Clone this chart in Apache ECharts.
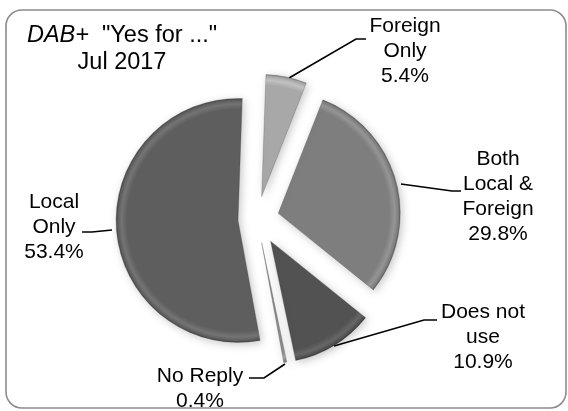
<!DOCTYPE html>
<html>
<head>
<meta charset="utf-8">
<script src="https://cdn.jsdelivr.net/npm/echarts@6/dist/echarts.min.js"></script>
<style>
  html, body { margin: 0; padding: 0; background: #ffffff; }
  #chart { width: 568px; height: 411px; }
</style>
</head>
<body>
<div id="chart"></div>
<script>
// Survey answers, clockwise from twelve o'clock
const categories = ['Foreign\nOnly', 'Both\nLocal &\nForeign', 'Does not\nuse', 'No Reply', 'Local\nOnly'];
const shares = [5.4, 29.8, 10.9, 0.4, 53.4];

// Look of each slice: base grey, rim highlight, outer edge
const sliceColors = ['#a8a8a8', '#7e7e7e', '#525252', '#8c8c8c', '#5e5e5e'];
const rimColors   = ['#c2c2c2', '#959595', '#666666', '#a5a5a5', '#747474'];
const edgeColors  = ['#858585', '#5e5e5e', '#3a3a3a', '#6a6a6a', '#444444'];
const explodeBy = [23, 22, 26, 24, 19];

// Where each label sits, and the leader from slice to label
const labelSpots = [
  { x: 405, y: 51,  line: [[289, 78], [356, 39], [366, 39]] },
  { x: 498, y: 197, line: [[401, 184], [452, 191], [461, 191]] },
  { x: 483, y: 337, line: [[334, 346], [424, 320], [437, 320]] },
  { x: 200, y: 389, line: [[285, 364], [264, 378], [249, 378]] },
  { x: 54,  y: 227, line: [[112, 230], [92, 232], [82, 232]] }
];

const FONT = '"Liberation Sans", Arial, sans-serif';
const PIE_CENTER = [257, 219];
const PIE_RADIUS = 122;
const START_ANGLE = 88;

const chart = echarts.init(document.getElementById('chart'), null, { renderer: 'canvas' });

const total = shares.reduce((a, b) => a + b, 0);
let before = 0;

// One pie per answer so every slice can be pulled out by its own distance
const series = shares.map((v, i) => {
  const a0 = START_ANGLE - 360 * before / total;
  before += v;
  const a1 = START_ANGLE - 360 * before / total;
  const mid = (a0 + a1) / 2 * Math.PI / 180;
  const cx = PIE_CENTER[0] + explodeBy[i] * Math.cos(mid);
  const cy = PIE_CENTER[1] - explodeBy[i] * Math.sin(mid);
  // bevelled rim: flat face, faint lighter band, darker lip
  const fill = {
    type: 'radial', global: true, x: cx, y: cy, r: PIE_RADIUS,
    colorStops: [
      { offset: 0, color: sliceColors[i] },
      { offset: 0.91, color: sliceColors[i] },
      { offset: 0.955, color: rimColors[i] },
      { offset: 0.985, color: sliceColors[i] },
      { offset: 1, color: edgeColors[i] }
    ]
  };
  return {
    type: 'pie',
    startAngle: START_ANGLE,
    clockwise: true,
    radius: PIE_RADIUS,
    center: [cx, cy],
    avoidLabelOverlap: false,
    silent: true,
    animation: false,
    data: categories.map((name, j) => ({
      name: name,
      value: shares[j],
      itemStyle: j === i ? {
        color: fill,
        borderColor: 'rgba(60,60,60,0.3)',
        borderWidth: 0.8,
        shadowBlur: 9,
        shadowOffsetX: 2,
        shadowOffsetY: 2,
        shadowColor: 'rgba(0,0,0,0.22)'
      } : { color: 'rgba(0,0,0,0)', borderWidth: 0 },
      label: { show: j === i },
      labelLine: { show: j === i }
    })),
    label: {
      position: 'outside',
      formatter: p => p.name + '\n' + p.value.toFixed(1) + '%',
      fontFamily: FONT,
      fontSize: 21,
      lineHeight: 25,
      color: '#000000',
      align: 'center'
    },
    labelLine: {
      show: true,
      lineStyle: { color: '#000000', width: 1.6 }
    },
    labelLayout: p => {
      if (p.dataIndex !== i) return {};
      const s = labelSpots[i];
      return { x: s.x, y: s.y, align: 'center', verticalAlign: 'middle', labelLinePoints: s.line };
    }
  };
});

chart.setOption({
  backgroundColor: '#ffffff',
  graphic: [
    {
      type: 'rect',
      shape: { x: 6, y: 10, width: 560, height: 398, r: 16 },
      style: { fill: 'none', stroke: '#8c8c8c', lineWidth: 1.6 },
      silent: true
    },
    {
      type: 'text',
      x: 122,
      y: 22,
      style: {
        text: '{i|DAB+}  "Yes for ..."\nJul 2017',
        fontFamily: FONT,
        fontSize: 23.5,
        lineHeight: 27,
        fill: '#000000',
        align: 'center',
        verticalAlign: 'top',
        rich: {
          i: { fontStyle: 'italic', fontFamily: FONT, fontSize: 23.5, lineHeight: 27, fill: '#000000' }
        }
      },
      silent: true
    }
  ],
  series: series
});
</script>
</body>
</html>
